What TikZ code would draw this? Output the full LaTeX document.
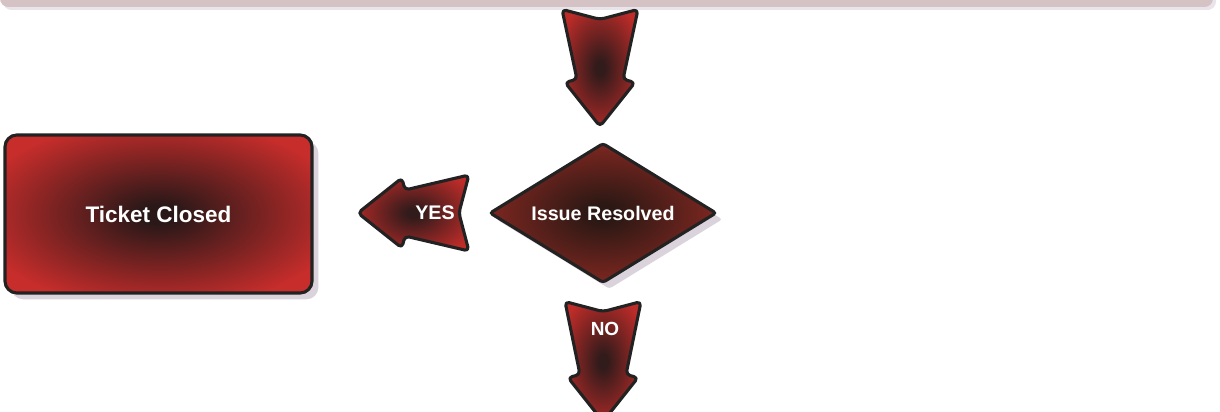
\documentclass[tikz,border=0pt]{standalone}
\usepackage{fontspec}
\setmainfont{Liberation Sans}
\usetikzlibrary{shapes.geometric,positioning}

\definecolor{bordo}{HTML}{232222}
\definecolor{ombra}{HTML}{DAD3DB}
\definecolor{barra}{HTML}{D4C2C5}
\definecolor{rossobox}{HTML}{C62D2B}
\definecolor{scurobox}{HTML}{2A1818}
\definecolor{rossorombo}{HTML}{9E2C25}
\definecolor{scurorombo}{HTML}{2B1814}
\definecolor{rossofreccia}{HTML}{BE2C29}
\definecolor{scurofreccia}{HTML}{321B1B}

\pgfdeclareradialshading{glowbox}{\pgfpoint{0bp}{0bp}}{color(0bp)=(scurobox); color(3bp)=(scurobox); color(30bp)=(rossobox); color(50bp)=(rossobox)}
\pgfdeclareradialshading{glowrombo}{\pgfpoint{0bp}{0bp}}{color(0bp)=(scurorombo); color(3bp)=(scurorombo); color(34bp)=(rossorombo); color(50bp)=(rossorombo)}
\pgfdeclareradialshading{glowfreccia}{\pgfpoint{0bp}{0bp}}{color(0bp)=(scurofreccia); color(3bp)=(scurofreccia); color(30bp)=(rossofreccia); color(50bp)=(rossofreccia)}

\tikzset{
  testo/.style={text=white, font=\bfseries\fontsize{14}{16}\selectfont},
  blocco/.style={testo, draw=bordo, line width=2.2pt, rounded corners=8.5pt,
    shade, shading=glowbox, font=\bfseries\fontsize{16}{18}\selectfont,
    preaction={fill=ombra, transform canvas={xshift=4.5pt, yshift=-4.5pt}}},
  rombo/.style={testo, diamond, aspect=1.6, draw=bordo, line width=2.2pt, rounded corners=2pt,
    shade, shading=glowrombo, inner sep=0pt, minimum width=5.675cm, minimum height=3.5cm,
    preaction={fill=ombra, transform canvas={xshift=4.5pt, yshift=-4.5pt}}},
  frecciastile/.style={draw=bordo, line width=2.2pt, rounded corners=3pt,
    line join=round, shade, shading=glowfreccia},
  pics/freccia/.style={
    code={
      \path[frecciastile] (0,-38) -- (10,0) -- (0,38) -- (#1-47,23) -- (#1-44,35)
        -- (#1,0) -- (#1-44,-35) -- (#1-47,-23) -- cycle;
    }
  }
}

\begin{document}
\begin{tikzpicture}[x=0.025cm, y=-0.025cm]
  \useasboundingbox (0,0) rectangle (1220,412);
  \clip (0,0) rectangle (1220,412);

  % Barra
  \fill[ombra!60] (3,-10) [rounded corners=6pt] rectangle (1216,10);
  \fill[barra] (0,-10) [rounded corners=6pt] rectangle (1213,7);

  % Nodi
  \node[blocco, minimum width=7.675cm, minimum height=3.95cm] (closed) at (158.5,214) {Ticket Closed};
  \node[rombo] (issue) at (603,213) {Issue Resolved};

  % Frecce
  \pic[rotate=-90] at ([xshift=-0.075cm, yshift=3.3cm]issue.north) {freccia=117};
  \pic[rotate=180] at ([xshift=-0.475cm]issue.west) {freccia=111};
  \pic[rotate=-90] at ([yshift=-0.425cm]issue.south) {freccia=120};

  % Etichette
  \node[testo] (yes) at (435,213) {YES};
  \node[testo, font=\bfseries\fontsize{13.5}{16}\selectfont] (no) at (605,329) {NO};
\end{tikzpicture}
\end{document}
